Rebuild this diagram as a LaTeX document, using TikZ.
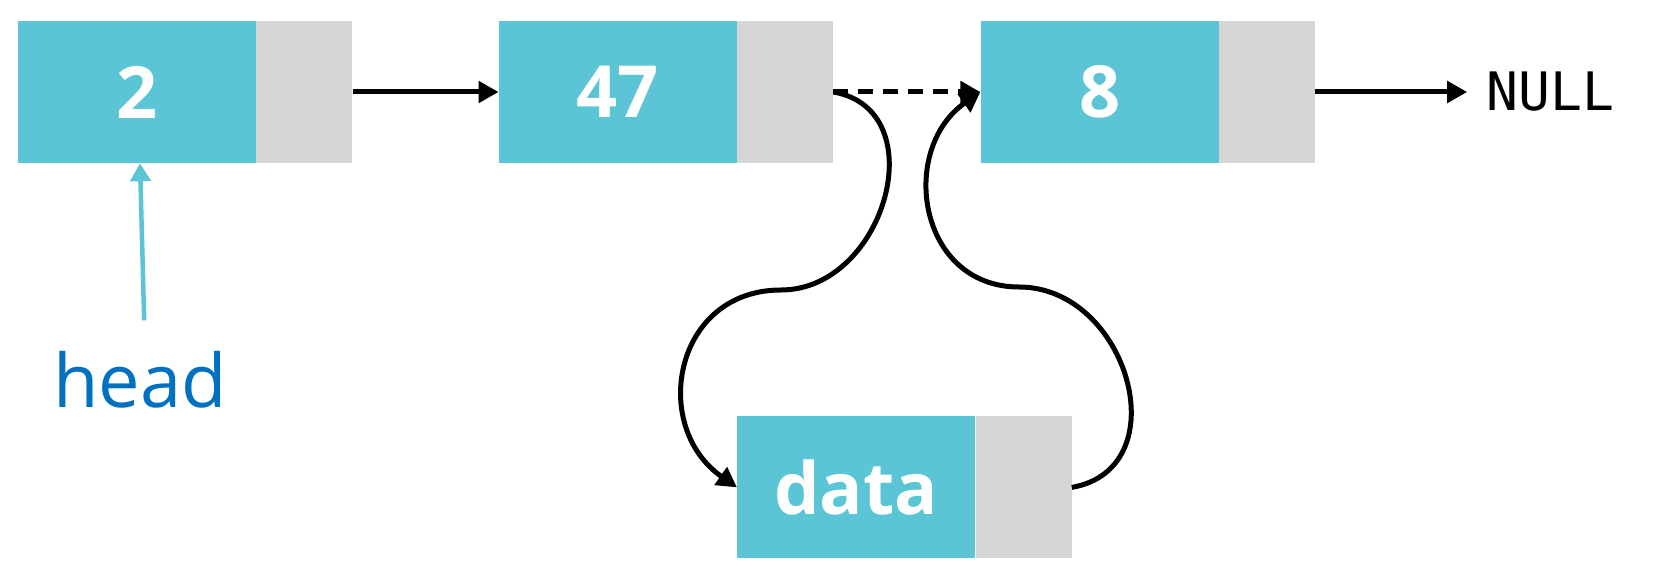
\documentclass[tikz,border=0pt]{standalone}
\usepackage{fontspec}
\setsansfont{Open Sans}
\newfontfamily\nullword{DejaVu Sans Mono}
\usetikzlibrary{positioning, arrows.meta}
\definecolor{cellblue}{HTML}{5BC5D5}
\definecolor{cellgray}{HTML}{D5D5D5}
\definecolor{headblue}{HTML}{0070C0}

\begin{document}
\begin{tikzpicture}[x=1pt, y=1pt, node distance=146pt,
		databox/.style={fill=cellblue, text=white, minimum width=238pt, minimum height=142pt, inner sep=0pt,
				font=\sffamily\bfseries\fontsize{72}{80}\selectfont},
		ptrbox/.style={fill=cellgray, minimum width=96pt, minimum height=142pt, inner sep=0pt},
		link/.style={line width=5pt, -{Triangle[length=20pt, width=21pt]}},
		headlink/.style={cellblue, line width=4.5pt, -{Triangle[length=18pt, width=20pt]}}]
		\useasboundingbox (0,0) rectangle (1656,581);

		% Nodes
		\node (d2) [databox] at (137,489) {2};
		\node (p2) [ptrbox, right=0pt of d2] {};
		\node (d47) [databox, right=of p2] {47};
		\node (p47) [ptrbox, right=0pt of d47] {};
		\node (d8) [databox, right=147pt of p47] {8};
		\node (p8) [ptrbox, right=0pt of d8] {};
		\node (null) [right=171pt of p8, inner sep=0pt, font=\nullword\fontsize{53}{60}\selectfont] {NULL};

		% new element
		\node (dd) [databox, anchor=north west] at ([yshift=-253pt]p47.south west) {data};
		\node (pd) [ptrbox, right=0pt of dd] {};

		\node (head) [text=headblue, inner sep=0pt, font=\sffamily\fontsize{74}{80}\selectfont] at (140,201) {head};

		\coordinate (m1) at (781,291);
		\coordinate (m2) at (1019,294);

		% Arrows
		\draw[link] (p2.east) -- (d47.west);
		\draw[link, dash pattern=on 15pt off 10pt] (p47.east) -- (d8.west);
		\draw[link] (p8.east) -- ([xshift=-19pt]null.west);
		\draw[headlink, shorten <=31pt] ([xshift=5pt]head.north) -- ([xshift=3pt]d2.south);

		% inserting the new element
		\draw[link] (p47.east) to[out=-10, in=0, looseness=1.3] (m1) to[out=180, in=145, looseness=1.35] (dd.west);
		\draw[link] (pd.east) to[out=10, in=0, looseness=1.35] (m2) to[out=180, in=215, looseness=1.3] (d8.west);

	\end{tikzpicture}
\end{document}
